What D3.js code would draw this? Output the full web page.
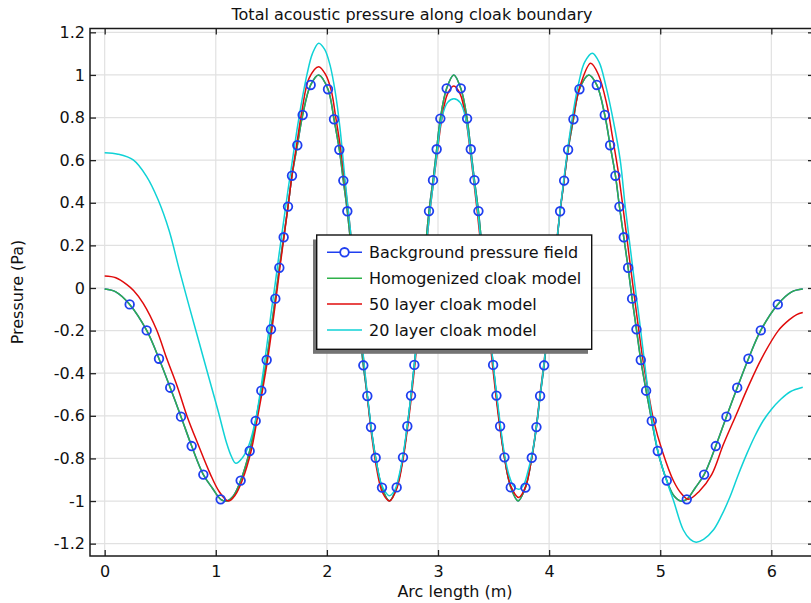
<!DOCTYPE html>
<html>
<head>
<meta charset="utf-8">
<script src="https://cdn.jsdelivr.net/npm/d3@7"></script>
<style>
  body { margin: 0; background: #fff; }
  svg { display: block; font-family: "DejaVu Sans", sans-serif; }
</style>
</head>
<body>
<div id="chart"></div>
<script>
// background field and homogenized model share the same arc positions
var arcA = [0.000, 0.100, 0.225, 0.378, 0.489, 0.590, 0.687, 0.783, 0.888, 0.970, 1.044, 1.098, 1.160, 1.224, 1.305, 1.359, 1.410, 1.458, 1.497, 1.536, 1.572, 1.611, 1.650, 1.686, 1.734, 1.782, 1.854, 1.926, 2.010, 2.064, 2.112, 2.148, 2.184, 2.213, 2.242, 2.270, 2.299, 2.328, 2.364, 2.397, 2.439, 2.496, 2.562, 2.628, 2.685, 2.724, 2.757, 2.787, 2.813, 2.840, 2.866, 2.892, 2.919, 2.955, 2.988, 3.021, 3.078, 3.142,
  3.205, 3.262, 3.295, 3.328, 3.364, 3.391, 3.417, 3.443, 3.470, 3.496, 3.526, 3.559, 3.598, 3.655, 3.721, 3.787, 3.844, 3.886, 3.919, 3.955, 3.984, 4.013, 4.041, 4.070, 4.099, 4.135, 4.171, 4.219, 4.273, 4.357, 4.429, 4.501, 4.549, 4.597, 4.633, 4.672, 4.711, 4.747, 4.786, 4.825, 4.873, 4.924, 4.978, 5.059, 5.123, 5.185, 5.239, 5.313, 5.395, 5.500, 5.596, 5.693, 5.794, 5.905, 6.058, 6.183, 6.283];
var backgroundP = [-0.005, -0.018, -0.077, -0.199, -0.332, -0.468, -0.604, -0.742, -0.876, -0.940, -0.992, -1.000, -0.975, -0.904, -0.765, -0.624, -0.482, -0.338, -0.194, -0.050, 0.095, 0.238, 0.382, 0.527, 0.670, 0.812, 0.953, 1.000, 0.933, 0.792, 0.649, 0.504, 0.360, 0.216, 0.071, -0.074, -0.219, -0.363, -0.507, -0.653, -0.797, -0.937, -1.000, -0.936, -0.795, -0.649, -0.505, -0.361, -0.217, -0.072, 0.072, 0.217, 0.361, 0.506, 0.651, 0.795, 0.937, 1.000,
  0.937, 0.795, 0.651, 0.506, 0.361, 0.217, 0.072, -0.072, -0.217, -0.361, -0.505, -0.649, -0.795, -0.936, -1.000, -0.937, -0.797, -0.653, -0.507, -0.363, -0.219, -0.074, 0.071, 0.216, 0.360, 0.504, 0.649, 0.792, 0.933, 1.000, 0.953, 0.812, 0.670, 0.527, 0.382, 0.238, 0.095, -0.050, -0.194, -0.338, -0.482, -0.624, -0.765, -0.904, -0.975, -1.000, -0.992, -0.940, -0.876, -0.742, -0.604, -0.468, -0.332, -0.199, -0.077, -0.018, -0.005];
var homogenizedP = [-0.005, -0.018, -0.077, -0.199, -0.332, -0.468, -0.604, -0.742, -0.876, -0.940, -0.992, -1.000, -0.975, -0.904, -0.765, -0.624, -0.482, -0.338, -0.194, -0.050, 0.095, 0.238, 0.382, 0.527, 0.670, 0.812, 0.953, 1.000, 0.933, 0.792, 0.649, 0.504, 0.360, 0.216, 0.071, -0.074, -0.219, -0.363, -0.507, -0.653, -0.797, -0.937, -1.000, -0.936, -0.795, -0.649, -0.505, -0.361, -0.217, -0.072, 0.072, 0.217, 0.361, 0.506, 0.651, 0.795, 0.937, 1.000,
  0.937, 0.795, 0.651, 0.506, 0.361, 0.217, 0.072, -0.072, -0.217, -0.361, -0.505, -0.649, -0.795, -0.936, -1.000, -0.937, -0.797, -0.653, -0.507, -0.363, -0.219, -0.074, 0.071, 0.216, 0.360, 0.504, 0.649, 0.792, 0.933, 1.000, 0.953, 0.812, 0.670, 0.527, 0.382, 0.238, 0.095, -0.050, -0.194, -0.338, -0.482, -0.624, -0.765, -0.904, -0.975, -1.000, -0.992, -0.940, -0.876, -0.742, -0.604, -0.468, -0.332, -0.199, -0.077, -0.018, -0.005];

// circle markers on the background field
var markArc = [0.225, 0.378, 0.489, 0.590, 0.687, 0.783, 0.888, 1.044, 1.224, 1.305, 1.359, 1.410, 1.458, 1.497, 1.536, 1.572, 1.611, 1.650, 1.686, 1.734, 1.782, 1.854, 2.010, 2.064, 2.112, 2.148, 2.184, 2.213, 2.242, 2.270, 2.299, 2.328, 2.364, 2.397, 2.439, 2.496, 2.628, 2.685, 2.724, 2.757, 2.787, 2.813, 2.840, 2.866, 2.892, 2.919, 2.955, 2.988, 3.021, 3.078,
  3.205, 3.262, 3.295, 3.328, 3.364, 3.391, 3.417, 3.443, 3.470, 3.496, 3.526, 3.559, 3.598, 3.655, 3.787, 3.844, 3.886, 3.919, 3.955, 3.984, 4.013, 4.041, 4.070, 4.099, 4.135, 4.171, 4.219, 4.273, 4.429, 4.501, 4.549, 4.597, 4.633, 4.672, 4.711, 4.747, 4.786, 4.825, 4.873, 4.924, 4.978, 5.059, 5.239, 5.395, 5.500, 5.596, 5.693, 5.794, 5.905, 6.058];
var markP = [-0.077, -0.199, -0.332, -0.468, -0.604, -0.742, -0.876, -0.992, -0.904, -0.765, -0.624, -0.482, -0.338, -0.194, -0.050, 0.095, 0.238, 0.382, 0.527, 0.670, 0.812, 0.953, 0.933, 0.792, 0.649, 0.504, 0.360, 0.216, 0.071, -0.074, -0.219, -0.363, -0.507, -0.653, -0.797, -0.937, -0.936, -0.795, -0.649, -0.505, -0.361, -0.217, -0.072, 0.072, 0.217, 0.361, 0.506, 0.651, 0.795, 0.937,
  0.937, 0.795, 0.651, 0.506, 0.361, 0.217, 0.072, -0.072, -0.217, -0.361, -0.505, -0.649, -0.795, -0.936, -0.937, -0.797, -0.653, -0.507, -0.363, -0.219, -0.074, 0.071, 0.216, 0.360, 0.504, 0.649, 0.792, 0.933, 0.953, 0.812, 0.670, 0.527, 0.382, 0.238, 0.095, -0.050, -0.194, -0.338, -0.482, -0.624, -0.765, -0.904, -0.992, -0.876, -0.742, -0.604, -0.468, -0.332, -0.199, -0.077];

// 50 layer cloak model
var arc50 = [0.000, 0.100, 0.200, 0.260, 0.347, 0.468, 0.558, 0.654, 0.743, 0.843, 0.948, 1.030, 1.113, 1.175, 1.240, 1.318, 1.370, 1.420, 1.466, 1.505, 1.542, 1.577, 1.614, 1.651, 1.686, 1.730, 1.775, 1.840, 1.926, 1.990, 2.040, 2.080, 2.125, 2.160, 2.195, 2.225, 2.255, 2.285, 2.314, 2.342, 2.372, 2.405, 2.445, 2.500, 2.565, 2.630, 2.690, 2.730, 2.763, 2.792, 2.818, 2.845, 2.872, 2.898, 2.925, 2.960, 2.995, 3.030, 3.085, 3.142,
  3.200, 3.255, 3.290, 3.322, 3.355, 3.383, 3.410, 3.437, 3.463, 3.490, 3.520, 3.553, 3.593, 3.655, 3.727, 3.790, 3.845, 3.885, 3.918, 3.952, 3.980, 4.010, 4.038, 4.068, 4.098, 4.135, 4.172, 4.220, 4.280, 4.374, 4.445, 4.520, 4.570, 4.618, 4.657, 4.694, 4.730, 4.767, 4.805, 4.845, 4.890, 4.942, 5.020, 5.120, 5.190, 5.253, 5.350, 5.463, 5.568, 5.688, 5.793, 5.913, 6.063, 6.160, 6.228, 6.283];
var p50 = [0.056, 0.048, 0.016, -0.012, -0.072, -0.197, -0.330, -0.463, -0.604, -0.737, -0.870, -0.955, -1.000, -0.972, -0.900, -0.765, -0.624, -0.482, -0.338, -0.194, -0.050, 0.095, 0.240, 0.385, 0.530, 0.680, 0.830, 0.985, 1.039, 1.000, 0.925, 0.800, 0.650, 0.500, 0.350, 0.200, 0.050, -0.100, -0.250, -0.400, -0.550, -0.700, -0.840, -0.960, -1.000, -0.940, -0.790, -0.640, -0.500, -0.360, -0.220, -0.080, 0.070, 0.210, 0.350, 0.500, 0.640, 0.780, 0.910, 0.948,
  0.910, 0.780, 0.640, 0.500, 0.350, 0.210, 0.070, -0.080, -0.220, -0.360, -0.500, -0.640, -0.780, -0.930, -0.983, -0.930, -0.790, -0.650, -0.500, -0.360, -0.220, -0.070, 0.080, 0.220, 0.360, 0.510, 0.660, 0.810, 0.950, 1.055, 1.000, 0.860, 0.710, 0.560, 0.410, 0.260, 0.110, -0.040, -0.190, -0.340, -0.480, -0.625, -0.767, -0.906, -0.965, -0.992, -0.955, -0.876, -0.735, -0.590, -0.462, -0.330, -0.200, -0.150, -0.125, -0.115];

// 20 layer cloak model
var arc20 = [0.000, 0.120, 0.257, 0.378, 0.482, 0.580, 0.672, 0.760, 0.850, 0.940, 1.020, 1.098, 1.140, 1.180, 1.240, 1.300, 1.360, 1.400, 1.440, 1.475, 1.505, 1.533, 1.570, 1.610, 1.650, 1.690, 1.730, 1.775, 1.820, 1.870, 1.926, 1.980, 2.028, 2.075, 2.118, 2.163, 2.208, 2.240, 2.270, 2.300, 2.330, 2.362, 2.395, 2.435, 2.490, 2.530, 2.562, 2.610, 2.650, 2.690, 2.728, 2.760, 2.790, 2.818, 2.845, 2.872, 2.898, 2.925, 2.960, 2.995, 3.033, 3.085, 3.144,
  3.200, 3.250, 3.290, 3.325, 3.360, 3.387, 3.413, 3.440, 3.467, 3.495, 3.525, 3.558, 3.595, 3.640, 3.680, 3.725, 3.770, 3.810, 3.850, 3.888, 3.920, 3.953, 3.982, 4.012, 4.040, 4.070, 4.100, 4.135, 4.172, 4.215, 4.265, 4.320, 4.389, 4.450, 4.510, 4.578, 4.640, 4.685, 4.730, 4.775, 4.815, 4.852, 4.890, 4.935, 4.985, 5.058, 5.118, 5.208, 5.270, 5.323, 5.390, 5.478, 5.550, 5.628, 5.700, 5.778, 5.850, 5.928, 6.000, 6.078, 6.170, 6.283];
var p20 = [0.635, 0.628, 0.601, 0.523, 0.413, 0.270, 0.085, -0.085, -0.255, -0.425, -0.575, -0.729, -0.790, -0.823, -0.797, -0.735, -0.615, -0.490, -0.345, -0.210, -0.090, 0.014, 0.160, 0.310, 0.460, 0.600, 0.740, 0.880, 1.000, 1.100, 1.149, 1.120, 1.047, 0.920, 0.750, 0.510, 0.290, 0.130, -0.020, -0.170, -0.330, -0.490, -0.640, -0.790, -0.920, -0.960, -0.975, -0.950, -0.880, -0.770, -0.630, -0.490, -0.350, -0.210, -0.070, 0.070, 0.210, 0.350, 0.500, 0.651, 0.795, 0.870, 0.888,
  0.870, 0.795, 0.651, 0.500, 0.350, 0.210, 0.070, -0.070, -0.210, -0.350, -0.490, -0.630, -0.770, -0.880, -0.930, -0.945, -0.925, -0.860, -0.770, -0.640, -0.500, -0.360, -0.220, -0.080, 0.070, 0.220, 0.370, 0.520, 0.670, 0.820, 0.960, 1.060, 1.102, 1.060, 0.950, 0.785, 0.600, 0.382, 0.190, 0.000, -0.160, -0.320, -0.480, -0.640, -0.780, -0.906, -0.995, -1.136, -1.180, -1.193, -1.180, -1.136, -1.070, -0.980, -0.880, -0.780, -0.697, -0.622, -0.570, -0.526, -0.487, -0.466];

var xTicks = [0, 1, 2, 3, 4, 5, 6];
var xTickLabels = ["0", "1", "2", "3", "4", "5", "6"];
var yTicks = [-1.2, -1, -0.8, -0.6, -0.4, -0.2, 0, 0.2, 0.4, 0.6, 0.8, 1, 1.2];
var yTickLabels = ["-1.2", "-1", "-0.8", "-0.6", "-0.4", "-0.2", "0", "0.2", "0.4", "0.6", "0.8", "1", "1.2"];
var seriesNames = ["Background pressure field", "Homogenized cloak model", "50 layer cloak model", "20 layer cloak model"];
var seriesColors = ["#1f3ff0", "#2fb14a", "#e00b0b", "#10d2d6"];

var W = 811, H = 603;
var plot = { left: 90, top: 28.5, right: 814, bottom: 556 };

var svg = d3.select("#chart").append("svg")
  .attr("width", W)
  .attr("height", H);

var x = d3.scaleLinear().domain([-0.132, 6.384]).range([plot.left, plot.right]);
var y = d3.scaleLinear().domain([-1.258, 1.218]).range([plot.bottom, plot.top]);

svg.append("defs").append("clipPath").attr("id", "clip")
  .append("rect")
  .attr("x", plot.left).attr("y", plot.top)
  .attr("width", plot.right - plot.left).attr("height", plot.bottom - plot.top);

// grid
var grid = svg.append("g").attr("stroke", "#e1e1e1").attr("stroke-width", 1.2);
grid.selectAll(".gx").data(xTicks).enter().append("line")
  .attr("x1", function (d) { return x(d); }).attr("x2", function (d) { return x(d); })
  .attr("y1", plot.top).attr("y2", plot.bottom);
grid.selectAll(".gy").data(yTicks).enter().append("line")
  .attr("x1", plot.left).attr("x2", plot.right)
  .attr("y1", function (d) { return y(d); }).attr("y2", function (d) { return y(d); });

// curves
function pairs(a, p) {
  return a.map(function (v, i) { return [v, p[i]]; });
}
var line = d3.line()
  .x(function (d) { return x(d[0]); })
  .y(function (d) { return y(d[1]); })
  .curve(d3.curveCatmullRom.alpha(0.5));

var curves = [pairs(arcA, backgroundP), pairs(arcA, homogenizedP), pairs(arc50, p50), pairs(arc20, p20)];
var lines = svg.append("g").attr("clip-path", "url(#clip)");
curves.forEach(function (c, i) {
  lines.append("path")
    .datum(c)
    .attr("d", line)
    .attr("fill", "none")
    .attr("stroke", seriesColors[i])
    .attr("stroke-width", 1.5);
});

lines.selectAll("circle").data(pairs(markArc, markP)).enter().append("circle")
  .attr("cx", function (d) { return x(d[0]); })
  .attr("cy", function (d) { return y(d[1]); })
  .attr("r", 4.3)
  .attr("fill", "none")
  .attr("stroke", seriesColors[0])
  .attr("stroke-width", 1.8);

// axes with inward ticks on all four sides
function styleAxis(g) {
  g.select(".domain").remove();
  g.selectAll(".tick line").attr("stroke", "#222").attr("stroke-width", 1.3);
  g.selectAll("text").attr("font-size", 16).attr("fill", "#111")
    .attr("font-family", "DejaVu Sans, sans-serif");
}
svg.append("g")
  .attr("transform", "translate(0," + plot.bottom + ")")
  .call(d3.axisBottom(x).tickValues(xTicks).tickSizeInner(-6).tickSizeOuter(0).tickPadding(10)
    .tickFormat(function (d, i) { return xTickLabels[i]; }))
  .call(styleAxis);
svg.append("g")
  .attr("transform", "translate(0," + plot.top + ")")
  .call(d3.axisTop(x).tickValues(xTicks).tickSizeInner(-6).tickSizeOuter(0).tickFormat(""))
  .call(styleAxis);
svg.append("g")
  .attr("transform", "translate(" + plot.left + ",0)")
  .call(d3.axisLeft(y).tickValues(yTicks).tickSizeInner(-6).tickSizeOuter(0).tickPadding(5)
    .tickFormat(function (d, i) { return yTickLabels[i]; }))
  .call(styleAxis);
svg.append("g")
  .attr("transform", "translate(" + plot.right + ",0)")
  .call(d3.axisRight(y).tickValues(yTicks).tickSizeInner(-6).tickSizeOuter(0).tickFormat(""))
  .call(styleAxis);

// frame
svg.append("rect")
  .attr("x", plot.left).attr("y", plot.top)
  .attr("width", plot.right - plot.left).attr("height", plot.bottom - plot.top)
  .attr("fill", "none").attr("stroke", "#1a1a1a").attr("stroke-width", 1.5);

// titles
svg.append("text")
  .attr("x", 412).attr("y", 20)
  .attr("text-anchor", "middle").attr("font-size", 16).attr("fill", "#111")
  .text("Total acoustic pressure along cloak boundary");
svg.append("text")
  .attr("x", 455).attr("y", 597)
  .attr("text-anchor", "middle").attr("font-size", 16).attr("fill", "#111")
  .text("Arc length (m)");
svg.append("text")
  .attr("transform", "translate(23,292) rotate(-90)")
  .attr("text-anchor", "middle").attr("font-size", 16).attr("fill", "#111")
  .text("Pressure (Pa)");

// legend
var lg = { x: 316.7, y: 235, w: 275, h: 114.3 };
svg.append("rect")
  .attr("x", lg.x - 3.7).attr("y", lg.y + 4.5)
  .attr("width", lg.w).attr("height", lg.h)
  .attr("fill", "#747474");
svg.append("rect")
  .attr("x", lg.x).attr("y", lg.y)
  .attr("width", lg.w).attr("height", lg.h)
  .attr("fill", "#fff").attr("stroke", "#111").attr("stroke-width", 1.4);
var rows = svg.append("g").selectAll("g").data(seriesNames).enter().append("g")
  .attr("transform", function (d, i) { return "translate(0," + (252.3 + i * 25.9) + ")"; });
rows.append("line")
  .attr("x1", 327).attr("x2", 362).attr("y1", 0).attr("y2", 0)
  .attr("stroke", function (d, i) { return seriesColors[i]; })
  .attr("stroke-width", 1.5);
rows.filter(function (d, i) { return i === 0; }).append("circle")
  .attr("cx", 344.5).attr("cy", 0).attr("r", 4.3)
  .attr("fill", "#fff").attr("stroke", seriesColors[0]).attr("stroke-width", 1.8);
rows.append("text")
  .attr("x", 369).attr("y", 6)
  .attr("font-size", 16).attr("fill", "#111")
  .text(function (d) { return d; });
</script>
</body>
</html>
